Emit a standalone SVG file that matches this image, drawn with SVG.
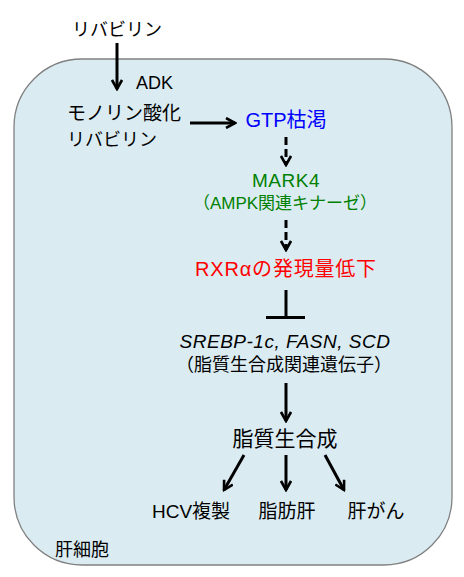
<svg xmlns="http://www.w3.org/2000/svg" width="464" height="577" viewBox="0 0 464 577">
<defs>
<marker id="ah" viewBox="0 0 12 12" refX="10" refY="6" markerWidth="12" markerHeight="12" markerUnits="userSpaceOnUse" orient="auto">
<path d="M1,1 L10,6 L1,11" fill="none" stroke="#000" stroke-width="2.6"/>
</marker>
<style>
text{font-family:"Liberation Sans","Noto Sans CJK JP",sans-serif;font-size:18px;fill:#000}
.c{text-anchor:middle}
.ln{stroke:#000;stroke-width:3;fill:none}
.d{stroke-dasharray:8,4}
</style>
</defs>
<rect id="cell" x="14" y="59" width="438" height="506" rx="68" ry="68" fill="#DAECF2" stroke="#808080" stroke-width="1.3"/>
<g id="connectors">
<line class="ln" x1="117" y1="43" x2="117" y2="89" marker-end="url(#ah)"/>
<line class="ln" x1="190" y1="123" x2="235" y2="123" marker-end="url(#ah)"/>
<line class="ln d" x1="286" y1="137" x2="286" y2="165" marker-end="url(#ah)"/>
<line class="ln d" x1="286" y1="220" x2="286" y2="250" marker-end="url(#ah)"/>
<line class="ln" x1="286" y1="290" x2="286" y2="317"/>
<line class="ln" x1="266" y1="317.5" x2="305" y2="317.5"/>
<line class="ln" x1="286" y1="383" x2="286" y2="421" marker-end="url(#ah)"/>
<line class="ln" x1="244" y1="455" x2="224" y2="490" marker-end="url(#ah)"/>
<line class="ln" x1="286" y1="455" x2="286" y2="490" marker-end="url(#ah)"/>
<line class="ln" x1="325" y1="455" x2="344" y2="490" marker-end="url(#ah)"/>
</g>
<g id="ribavirin"><text x="72" y="36">リバビリン</text></g>
<g id="adk"><text x="136" y="89">ADK</text></g>
<g id="rmp"><text x="67" y="120" style="font-size:19px">モノリン酸化</text><text x="67" y="146">リバビリン</text></g>
<g id="gtp"><text class="c" x="286" y="127" style="fill:#0000FF;font-size:20px">GTP枯渇</text></g>
<g id="mark4"><text class="c" x="286" y="187" style="fill:#008000;font-size:19px;letter-spacing:0.5px">MARK4</text><text class="c" x="285" y="209" style="fill:#008000;font-size:17px">（AMPK関連キナーゼ）</text></g>
<g id="rxr"><text class="c" x="286" y="276" style="fill:#FF0000;font-size:20px;letter-spacing:0.8px">RXRαの発現量低下</text></g>
<g id="genes"><text class="c" x="285" y="348" style="font-style:italic;font-size:19px;letter-spacing:0.5px">SREBP-1c, FASN, SCD</text><text class="c" x="284" y="371">（脂質生合成関連遺伝子）</text></g>
<g id="lipo"><text class="c" x="285" y="446" style="font-size:21px">脂質生合成</text></g>
<g id="hcv"><text class="c" x="191" y="518" style="font-size:19px">HCV複製</text></g>
<g id="fatty"><text class="c" x="287" y="518" style="font-size:19px">脂肪肝</text></g>
<g id="hcc"><text class="c" x="376" y="518" style="font-size:19px">肝がん</text></g>
<g id="hep"><text x="55" y="556">肝細胞</text></g>
</svg>
